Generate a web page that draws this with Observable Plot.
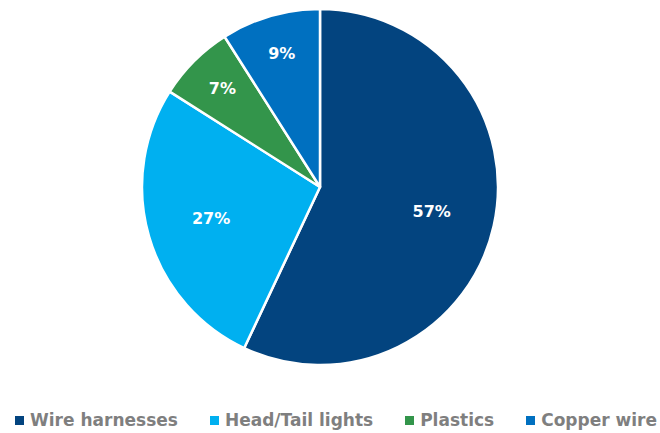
<!DOCTYPE html>
<html>
<head>
<meta charset="utf-8">
<script src="https://cdn.jsdelivr.net/npm/d3@7"></script>
<script src="https://cdn.jsdelivr.net/npm/@observablehq/plot@0.6"></script>
<style>
  html, body { margin: 0; padding: 0; background: #fff; }
  #chart { width: 660px; height: 400px; }
  #legend { position: absolute; left: 0; top: 410px; width: 660px; display: flex; justify-content: center; padding-left: 12px; box-sizing: border-box; }
  #legend > * { min-height: 0 !important; margin: 0 !important; }
  #legend .plot-swatches, #legend span { font-family: "DejaVu Sans", sans-serif; font-weight: bold; font-size: 17px; color: #7f7f7f; line-height: 20px; }
  #legend span { margin-right: 32px; }
  #legend span:last-child { margin-right: 0; }
  #legend svg { margin-right: 6px; }
</style>
</head>
<body>
<div id="chart"></div>
<div id="legend"></div>
<script>
const categories = ["Wire harnesses", "Head/Tail lights", "Plastics", "Copper wire"];
const shares = [57, 27, 7, 9];
const colors = ["#03447f", "#00b0f0", "#33954b", "#0070c0"];

const data = categories.map((name, i) => ({name, value: shares[i]}));
const arcs = d3.pie().sort(null).value(d => d.value)(data);
const labels = arcs.map(a => {
  const mid = (a.startAngle + a.endAngle) / 2;
  const k = a.data.value < 10 ? 0.78 : 0.64;
  return {text: a.data.value + "%", x: Math.sin(mid) * k, y: Math.cos(mid) * k};
});

const cx = 320, cy = 187, R = 178;

const slices = (index, scales) => {
  const x0 = scales.x(0), y0 = scales.y(0), r = scales.x(1) - scales.x(0);
  const g = d3.create("svg:g").attr("transform", `translate(${x0},${y0})`);
  const arc = d3.arc().innerRadius(0).outerRadius(r);
  g.selectAll("path").data(arcs).join("path")
    .attr("d", arc)
    .attr("fill", d => scales.color(d.data.name))
    .attr("stroke", "#fff")
    .attr("stroke-width", 2.5)
    .attr("stroke-linejoin", "round");
  return g.node();
};

const plot = Plot.plot({
  width: 660,
  height: 400,
  margin: 0,
  x: {domain: [-1, 1], range: [cx - R, cx + R], axis: null},
  y: {domain: [-1, 1], range: [cy + R, cy - R], axis: null},
  color: {domain: categories, range: colors},
  style: {fontFamily: "'DejaVu Sans', sans-serif", background: "#fff"},
  marks: [
    slices,
    Plot.text(labels, {x: "x", y: "y", text: "text", fill: "#fff", fontSize: 16, fontWeight: "bold"})
  ]
});
document.getElementById("chart").appendChild(plot);

const legend = Plot.legend({
  color: {domain: categories, range: colors},
  legend: "swatches",
  swatchSize: 9,
  style: {fontFamily: "'DejaVu Sans', sans-serif", fontWeight: "bold", fontSize: "17px", color: "#7f7f7f"}
});
document.getElementById("legend").appendChild(legend);
</script>
</body>
</html>
